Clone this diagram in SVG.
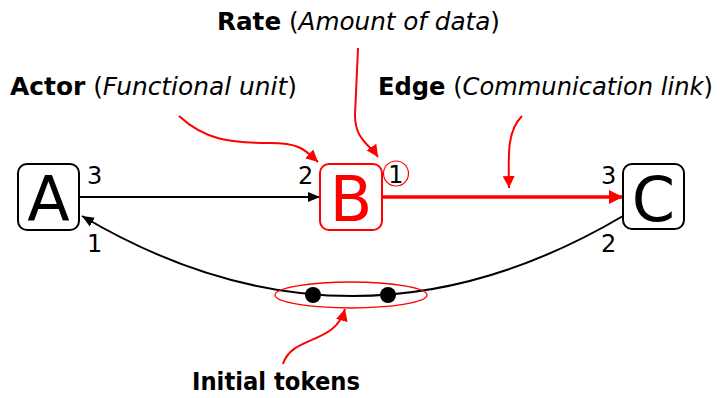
<svg xmlns="http://www.w3.org/2000/svg" width="722" height="398" viewBox="0 0 722 398">
<style>
text{font-family:"DejaVu Sans","Liberation Sans",sans-serif;fill:#000}
.lab{font-size:25px}
.b{font-weight:bold}
.i{font-style:italic}
.num{font-size:24px}
.big{font-size:62px}
.node{fill:#fff;stroke:#000;stroke-width:2}
.red{stroke:#f00}
.ann{fill:none;stroke:#f00;stroke-width:2}
</style>
<defs>
<marker id="ab" markerUnits="userSpaceOnUse" markerWidth="14" markerHeight="12" refX="12" refY="6" orient="auto"><path d="M0,1 L12,6 L0,11 Z" fill="#000"/></marker>
<marker id="ar" markerUnits="userSpaceOnUse" markerWidth="16" markerHeight="16" refX="14" refY="8" orient="auto"><path d="M0,1 L14,8 L0,15 Z" fill="#f00"/></marker>
<marker id="ars" markerUnits="userSpaceOnUse" markerWidth="14" markerHeight="14" refX="12" refY="7" orient="auto"><path d="M0,1 L12,7 L0,13 Z" fill="#f00"/></marker>
</defs>
<g id="connectors">
<line x1="80" y1="197" x2="320" y2="197" stroke="#000" stroke-width="2" marker-end="url(#ab)"/>
<line x1="382" y1="197" x2="623" y2="197" stroke="#f00" stroke-width="3.5" marker-end="url(#ar)"/>
<path d="M623,216 Q352,376 82,216" fill="none" stroke="#000" stroke-width="2" marker-end="url(#ab)"/>
<circle cx="313" cy="295" r="8" fill="#000"/>
<circle cx="388" cy="295" r="8" fill="#000"/>
<ellipse cx="351" cy="295" rx="76" ry="13" fill="none" stroke="#f00" stroke-width="1.3"/>
<path class="ann" d="M179,116 C205,140 230,143 270,143 C300,143 305,150 318,162" marker-end="url(#ars)"/>
<path class="ann" d="M358,48 L355,115 C355,140 370,145 378,157" marker-end="url(#ars)"/>
<path class="ann" d="M522,116 C508,130 508,150 509,188" marker-end="url(#ars)"/>
<path class="ann" d="M283,364 C292,335 335,345 345,309" marker-end="url(#ars)"/>
</g>
<g id="node-A">
<rect class="node" x="18" y="164" width="61" height="66" rx="9"/>
<text class="big" x="48.5" y="221" text-anchor="middle">A</text>
<text class="num" x="87" y="184">3</text>
<text class="num" x="87" y="252">1</text>
</g>
<g id="node-B">
<rect class="node red" x="320" y="164" width="62" height="66" rx="9" stroke-width="3"/>
<text class="big" x="351" y="221" text-anchor="middle" style="fill:#f00">B</text>
<text class="num" x="298" y="184">2</text>
<circle cx="396" cy="173.5" r="12.5" fill="none" stroke="#f00" stroke-width="1.2"/>
<text class="num" x="396" y="183" text-anchor="middle">1</text>
</g>
<g id="node-C">
<rect class="node" x="623" y="164" width="61" height="65" rx="9"/>
<text class="big" x="653.5" y="221" text-anchor="middle">C</text>
<text class="num" x="601" y="184">3</text>
<text class="num" x="601" y="252">2</text>
</g>
<g id="labels">
<text class="lab" x="217" y="30" textLength="283" lengthAdjust="spacingAndGlyphs"><tspan class="b">Rate</tspan> (<tspan class="i">Amount of data</tspan>)</text>
<text class="lab" x="10" y="95" textLength="287" lengthAdjust="spacingAndGlyphs"><tspan class="b">Actor</tspan> (<tspan class="i">Functional unit</tspan>)</text>
<text class="lab" x="378" y="95" textLength="335" lengthAdjust="spacingAndGlyphs"><tspan class="b">Edge</tspan> (<tspan class="i">Communication link</tspan>)</text>
<text class="lab b" x="192" y="390" textLength="168" lengthAdjust="spacingAndGlyphs">Initial tokens</text>
</g>
</svg>
